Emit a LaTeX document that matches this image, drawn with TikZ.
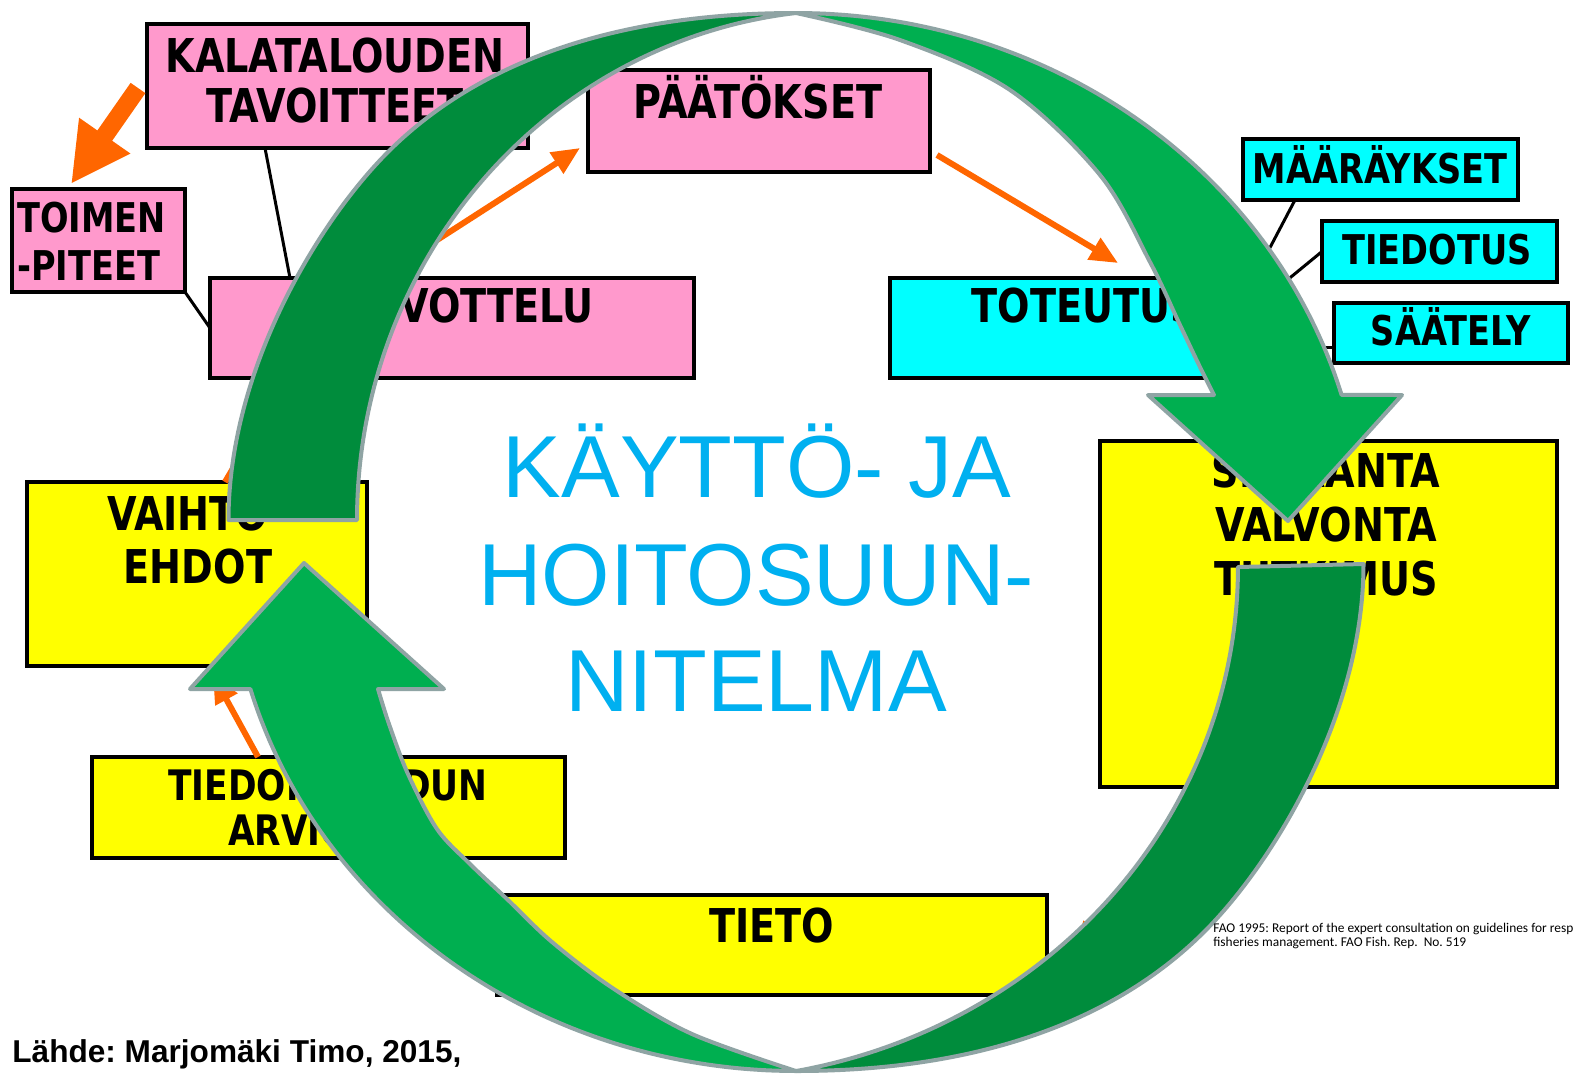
\documentclass[tikz,border=0pt]{standalone}
\usepackage{fontspec}
\usetikzlibrary{arrows.meta,calc}
\setmainfont{Liberation Sans}
\newfontfamily\boxfont{DejaVu Sans}[FakeStretch=0.82]
\newfontfamily\arialfont{Liberation Sans}
\newfontfamily\calfont{Carlito}
\definecolor{kpink}{HTML}{FF99CC}
\definecolor{kcyan}{HTML}{00FFFF}
\definecolor{kyellow}{HTML}{FFFF00}
\definecolor{gdark}{HTML}{008C3C}
\definecolor{glight}{HTML}{00AF50}
\definecolor{gborder}{HTML}{8FA4A4}
\definecolor{korange}{HTML}{FF6600}
\definecolor{kblue}{HTML}{00B0F0}
\frenchspacing
\newcommand\darkouterpath{(228.5,520) .. controls (228.5,370) and (318,222) .. (388,152) .. controls (458,82) and (581,13) .. (796,13)}
\newcommand\lightouterhead{plot[domain=270:343.86, samples=100] ({796+568*cos(\x)},{542+529*sin(\x)})
    -- (1402,395) -- (1288,521) -- (1148,395)}
\begin{document}
\begin{tikzpicture}[x=0.5pt,y=-0.5pt,
  box/.style={draw=black, line width=2pt, inner sep=0pt, outer sep=0pt},
  pinkbox/.style={box, fill=kpink},
  cyanbox/.style={box, fill=kcyan},
  yellowbox/.style={box, fill=kyellow},
  bigtxt/.style={anchor=base, inner sep=0pt, font=\boxfont\bfseries\fontsize{23.3}{28}\selectfont},
  smalltxt/.style={anchor=base, inner sep=0pt, font=\boxfont\bfseries\fontsize{20.5}{25}\selectfont},
  midtxt/.style={anchor=base, inner sep=0pt, font=\boxfont\bfseries\fontsize{21}{25}\selectfont},
  centertxt/.style={anchor=base, inner sep=0pt, text=kblue, font=\arialfont\fontsize{44}{53}\selectfont},
  oarrow/.style={draw=korange, line width=3pt, -{Triangle[length=14pt,width=12pt]}},
  bigoarrow/.style={draw=korange, line width=9pt, -{Triangle[length=29.5pt,width=29pt]}},
  conn/.style={draw=black, line width=1.5pt},
  greenline/.style={draw=gborder, line width=2pt, line join=round},
]
\fill[white] (0,0) rectangle (1581,1077);
\useasboundingbox (0,0) rectangle (1581,1077);

% boxes
\node[pinkbox, minimum width=190.5pt, minimum height=62pt] (kal) at (337.5,86) {};
\node[pinkbox, minimum width=86.5pt, minimum height=51.5pt] (toim) at (98.5,240.5) {};
\node[pinkbox, minimum width=242pt, minimum height=50pt] (neuv) at (452,328) {};
\node[pinkbox, minimum width=171pt, minimum height=51pt] (paat) at (759,121) {};
\node[cyanbox, minimum width=137.5pt, minimum height=30.5pt] (maar) at (1380.5,169.5) {};
\node[cyanbox, minimum width=117.5pt, minimum height=30.5pt] (tied) at (1439.5,251.5) {};
\node[cyanbox, minimum width=117pt, minimum height=30pt] (saat) at (1451,333) {};
\node[cyanbox, minimum width=195pt, minimum height=50pt] (tot) at (1085,328) {};
\node[yellowbox, minimum width=228.5pt, minimum height=173pt] (seur) at (1328.5,614) {};
\node[yellowbox, minimum width=170pt, minimum height=92pt] (vaih) at (197,574) {};
\node[yellowbox, minimum width=236.5pt, minimum height=50.5pt] (tlaa) at (328.5,807.5) {};
\node[yellowbox, minimum width=275pt, minimum height=50pt] (tieto) at (772,945) {};

% box texts
\node[bigtxt] (kalT1) at (335,72) {KALATALOUDEN};
\node[bigtxt] (kalT2) at (335,122) {TAVOITTEET};
\node[bigtxt] (paatT) at (758,118) {PÄÄTÖKSET};
\node[bigtxt] (neuvT) at (452,322) {NEUVOTTELU};
\node[bigtxt] (totT) at (1085,322) {TOTEUTUS};
\node[smalltxt] (maarT) at (1380,183) {MÄÄRÄYKSET};
\node[smalltxt] (tiedT) at (1437,264) {TIEDOTUS};
\node[smalltxt] (saatT) at (1451,345) {SÄÄTELY};
\node[smalltxt, anchor=base west] (toimT1) at (17,232) {TOIMEN};
\node[smalltxt, anchor=base west] (toimT2) at (17,280) {-PITEET};
\node[bigtxt] (seurT1) at (1326,487) {SEURANTA};
\node[bigtxt] (seurT2) at (1326,541) {VALVONTA};
\node[bigtxt] (seurT3) at (1326,595) {TUTKIMUS};
\node[bigtxt] (vaihT1) at (196,530) {VAIHTO-};
\node[bigtxt] (vaihT2) at (198,583) {EHDOT};
\node[midtxt] (tlaaT1) at (328,800) {TIEDON LAADUN};
\node[midtxt] (tlaaT2) at (328,845) {ARVIOINTI};
\node[bigtxt] (tietoT) at (772,942) {TIETO};

% black connectors
\draw[conn] ($(kal.south west)+(118,0)$) -- ($(neuv.north west)+(80,0)$);
\draw[conn] (toim.south east) -- (neuv.west);
\draw[conn] ($(maar.south west)+(52,0)$) -- ($(tot.north east)+(-26,0)$);
\draw[conn] (tied.west) -- ($(tot.east)+(0,-42)$);
\draw[conn] ($(saat.west)+(0,14)$) -- ($(tot.east)+(0,19)$);

% orange arrows
\draw[bigoarrow] ($(kal.west)+(-9,2)$) -- ($(toim.north)+(-27.5,-5)$);
\draw[oarrow] ($(neuv.north west)+(168,0)$) -- ($(paat.west)+(-8,27)$);
\draw[oarrow] ($(paat.east)+(7,34)$) -- ($(tot.north)+(33,-15)$);
\draw[oarrow] ($(tlaa.north west)+(166,0)$) -- ($(vaih.south west)+(186,9)$);
\draw[oarrow] ($(vaih.north)+(28,0)$) -- ($(neuv.south west)+(75,2)$);
\draw[oarrow] ($(seur.south west)+(115,0)$) -- ($(tieto.east)+(28,5)$);

% green circular arrows (top one)
\filldraw[greenline, fill=gdark]
  \darkouterpath
  -- plot[domain=263.61:180, samples=100] ({851+494*cos(\x)},{520+510.2*sin(\x)})
  -- cycle;
\filldraw[greenline, fill=glight]
  \lightouterhead
  -- plot[smooth, tension=0.55] coordinates {(1214,395) (1199,365) (1180,325) (1150,262) (1100,175) (1010,90) (900,40) (796,13)}
  -- cycle;
% bottom one (same shape turned half round)
\begin{scope}[rotate around={180:(796,542)}]
\filldraw[greenline, fill=gdark]
  \darkouterpath
  -- plot[domain=259.28:180, samples=100] ({897+543*cos(\x)},{517+513*sin(\x)})
  -- cycle;
\filldraw[greenline, fill=glight]
  \lightouterhead
  -- plot[smooth, tension=0.55] coordinates {(1214,395) (1203,360) (1184,310) (1155,255) (1122,220) (1085,185) (1040,142) (978,95) (900,50) (796,13)}
  -- cycle;
\end{scope}

% centre title
\node[centertxt] (c1) at (757,497) {KÄYTTÖ- JA};
\node[centertxt] (c2) at (756,605) {HOITOSUUN-};
\node[centertxt] (c3) at (756,711) {NITELMA};

% source texts
\node[anchor=base west, inner sep=0pt, font=\arialfont\bfseries\fontsize{15.8}{19}\selectfont] (src) at (12,1062) {Lähde: Marjomäki Timo, 2015,};
\node[anchor=base west, inner sep=0pt, font=\calfont\fontsize{6.7}{8}\selectfont] (fao1) at (1213,932) {FAO 1995: Report of the expert consultation on guidelines for resp};
\node[anchor=base west, inner sep=0pt, font=\calfont\fontsize{6.7}{8}\selectfont] (fao2) at (1213,946) {fisheries management. FAO Fish. Rep.\ \ No. 519};
\end{tikzpicture}
\end{document}
